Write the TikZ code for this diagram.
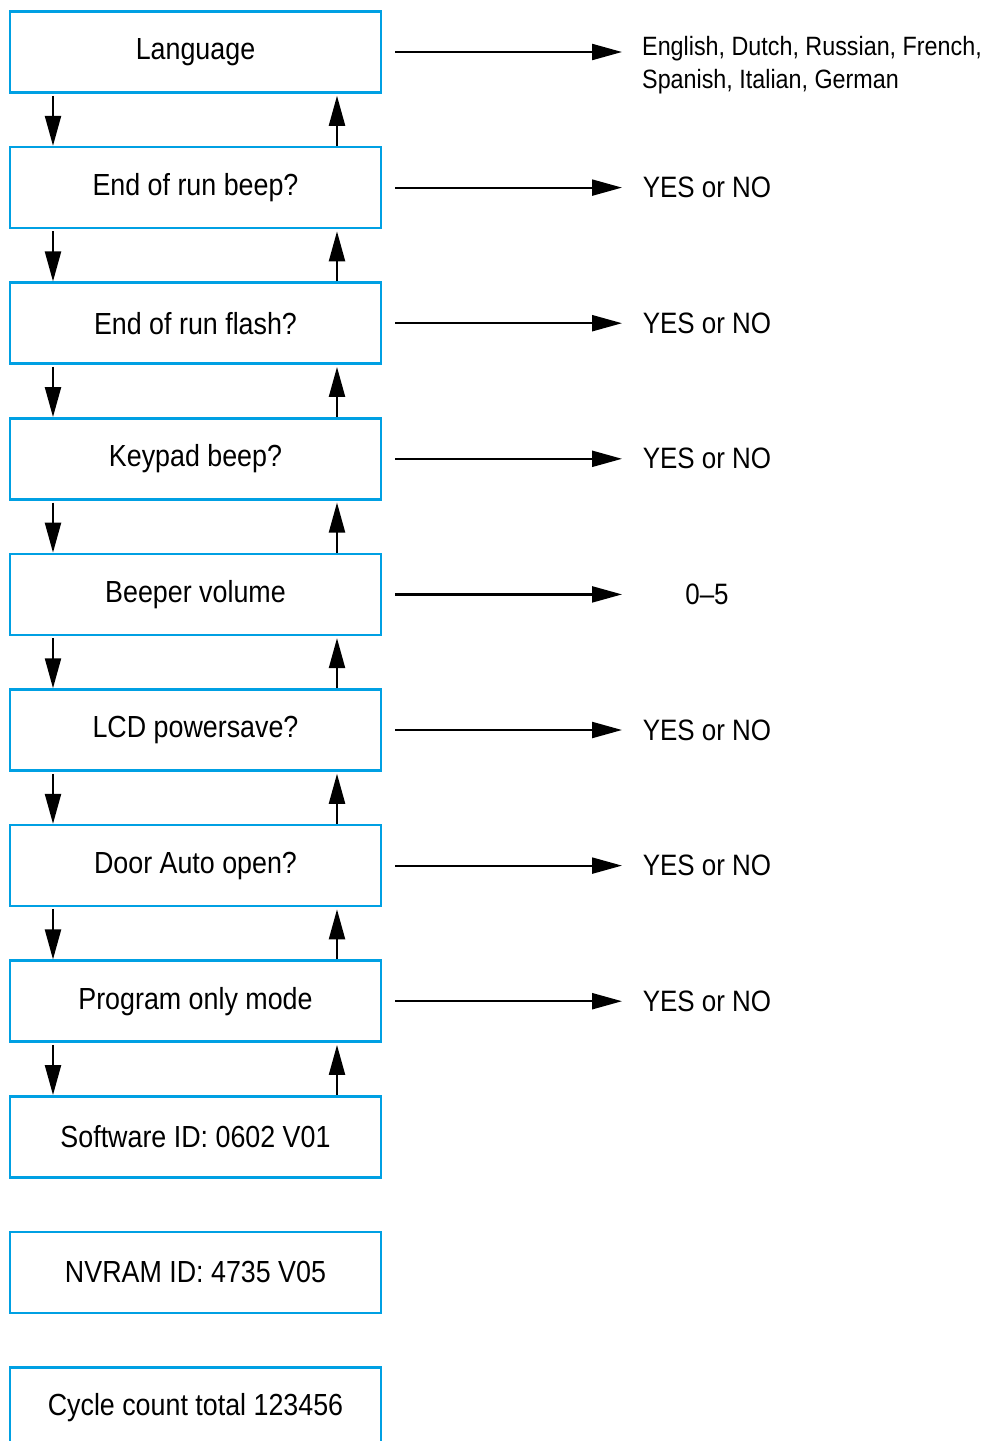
\documentclass[tikz,border=0pt]{standalone}
\usepackage{fontspec}
\setmainfont{Liberation Sans}[FakeStretch=0.88]
\usetikzlibrary{arrows.meta,calc}
\definecolor{boxblue}{RGB}{0,160,227}
\begin{document}
\begin{tikzpicture}[x=1pt,y=-1pt,
  menubox/.style={draw=boxblue,line width=2.5pt,minimum width=371pt,minimum height=81pt,inner sep=0pt,
    font=\fontsize{30.5}{36}\selectfont},
  arr/.style={line width=2.2pt,-{Triangle[length=30pt,width=16pt]}},
  optlabel/.style={font=\fontsize{29.5}{36}\selectfont,inner sep=0pt},
  smalllabel/.style={font=\fontsize{26.5}{32.5}\selectfont,inner sep=0pt,align=left,anchor=west}]
\useasboundingbox (0,0) rectangle (982,1441);
\clip (0,0) rectangle (982,1441);
\coordinate (dx) at (53,0);
\coordinate (ux) at (337,0);
\coordinate (ax) at (622,0);
\node[menubox] (b1) at (195.5,52) {Language};
\node[menubox] (b2) at (195.5,187.6) {End of run beep?};
\node[menubox] (b3) at (195.5,323.2) {End of run flash?};
\node[menubox] (b4) at (195.5,458.8) {Keypad beep?};
\node[menubox] (b5) at (195.5,594.4) {Beeper volume};
\node[menubox] (b6) at (195.5,730) {LCD powersave?};
\node[menubox] (b7) at (195.5,865.6) {Door Auto open?};
\node[menubox] (b8) at (195.5,1001.2) {Program only mode};
\node[menubox] (b9) at (195.5,1136.8) {Software ID: 0602 V01};
\node[menubox] (b10) at (195.5,1272.4) {NVRAM ID: 4735 V05};
\node[menubox] (b11) at (195.5,1408) {Cycle count total 123456};
\foreach \a/\b in {b1/b2,b2/b3,b3/b4,b4/b5,b5/b6,b6/b7,b7/b8,b8/b9}{
  \draw[arr] ($(\a.south -| dx)+(0,2)$) -- (\b.north -| dx);
  \draw[arr] (\b.north -| ux) -- ($(\a.south -| ux)+(0,2)$);
}
\node[smalllabel] (l1) at (642,65) {English, Dutch, Russian, French,\\Spanish, Italian, German};
\node[optlabel] (l2) at (707,187.6) {YES or NO};
\node[optlabel] (l3) at (707,323.2) {YES or NO};
\node[optlabel] (l4) at (707,458.8) {YES or NO};
\node[optlabel] (l5) at (707,594.4) {0--5};
\node[optlabel] (l6) at (707,730) {YES or NO};
\node[optlabel] (l7) at (707,865.6) {YES or NO};
\node[optlabel] (l8) at (707,1001.2) {YES or NO};
\foreach \i in {1,...,8}{
  \draw[arr] ($(b\i.east)+(13,0)$) -- (ax |- b\i.east);
}
\end{tikzpicture}
\end{document}
